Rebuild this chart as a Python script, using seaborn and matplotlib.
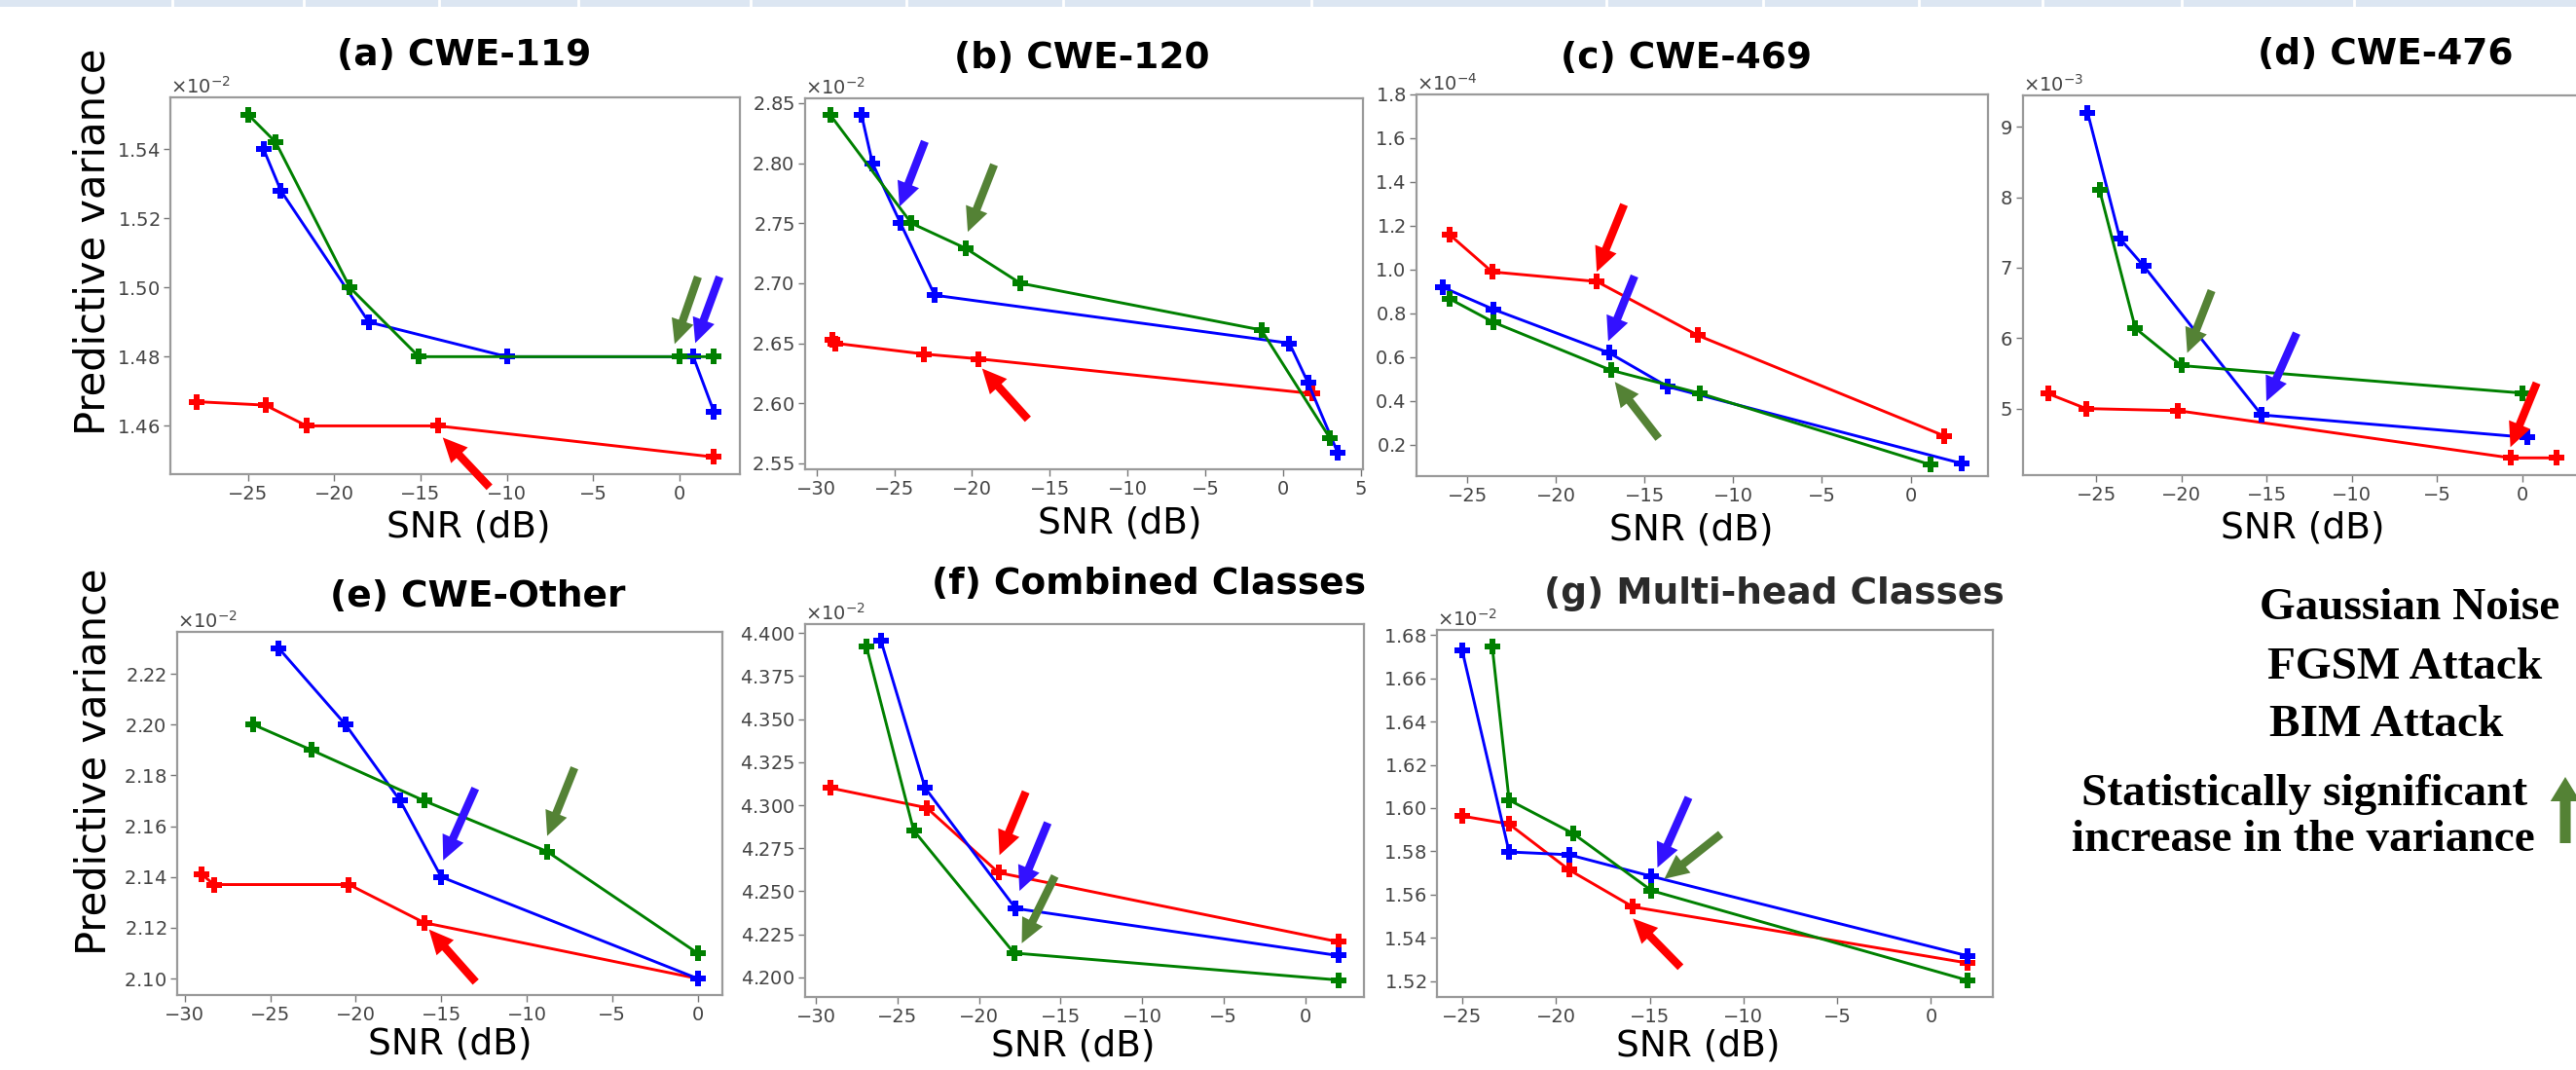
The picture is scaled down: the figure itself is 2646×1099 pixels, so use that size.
import matplotlib
matplotlib.use("Agg")
import matplotlib.pyplot as plt
import seaborn as sns
import pandas as pd
from matplotlib.ticker import MultipleLocator
from matplotlib.transforms import ScaledTranslation
from matplotlib.patches import Rectangle

# ---------------- data (y values in units of the axis multiplier) ----------------
METHODS = ["Gaussian Noise", "FGSM Attack", "BIM Attack"]
TITLES = ["(a) CWE-119", "(b) CWE-120", "(c) CWE-469", "(d) CWE-476",
          "(e) CWE-Other", "(f) Combined Classes", "(g) Multi-head Classes"]
SCALES = [1e-2, 1e-2, 1e-4, 1e-3, 1e-2, 1e-2, 1e-2]

A_RED_X = [-28.0, -24.0, -21.6, -14.0, 2.0]
A_RED_Y = [1.467, 1.466, 1.460, 1.460, 1.451]
A_BLUE_X = [-24.1, -23.1, -18.0, -10.0, 0.8, 2.0]
A_BLUE_Y = [1.540, 1.528, 1.490, 1.480, 1.480, 1.464]
A_GREEN_X = [-25.0, -23.4, -19.1, -15.1, 0.0, 2.0]
A_GREEN_Y = [1.550, 1.542, 1.500, 1.480, 1.480, 1.480]

B_RED_X = [-29.0, -28.8, -23.1, -19.6, 1.9]
B_RED_Y = [2.653, 2.650, 2.641, 2.637, 2.608]
B_BLUE_X = [-27.1, -26.4, -24.6, -22.4, 0.4, 1.6, 3.5]
B_BLUE_Y = [2.840, 2.800, 2.750, 2.690, 2.650, 2.617, 2.559]
B_GREEN_X = [-29.1, -23.9, -20.4, -16.9, -1.4, 3.0]
B_GREEN_Y = [2.840, 2.750, 2.729, 2.700, 2.661, 2.571]

C_RED_X = [-26.0, -23.6, -17.7, -12.0, 1.9]
C_RED_Y = [1.16, 0.99, 0.946, 0.70, 0.241]
C_BLUE_X = [-26.4, -23.5, -17.0, -13.7, 2.9]
C_BLUE_Y = [0.92, 0.818, 0.62, 0.466, 0.115]
C_GREEN_X = [-26.0, -23.5, -16.9, -11.9, 1.1]
C_GREEN_Y = [0.867, 0.759, 0.541, 0.436, 0.11]

D_RED_X = [-27.8, -25.6, -20.2, -0.7, 2.0]
D_RED_Y = [5.21, 5.00, 4.97, 4.30, 4.30]
D_BLUE_X = [-25.5, -23.6, -22.2, -15.3, 0.3]
D_BLUE_Y = [9.20, 7.41, 7.02, 4.91, 4.59]
D_GREEN_X = [-24.8, -22.7, -20.0, 0.0]
D_GREEN_Y = [8.10, 6.14, 5.61, 5.22]

E_RED_X = [-29.0, -28.3, -20.4, -16.0, 0.0]
E_RED_Y = [2.141, 2.137, 2.137, 2.122, 2.100]
E_BLUE_X = [-24.5, -20.6, -17.4, -15.0, 0.0]
E_BLUE_Y = [2.230, 2.200, 2.170, 2.140, 2.100]
E_GREEN_X = [-26.0, -22.6, -16.0, -8.8, 0.0]
E_GREEN_Y = [2.200, 2.190, 2.170, 2.150, 2.110]

F_RED_X = [-29.1, -23.2, -18.8, 2.05]
F_RED_Y = [4.310, 4.2985, 4.2608, 4.2206]
F_BLUE_X = [-26.0, -23.3, -17.75, 2.05]
F_BLUE_Y = [4.3954, 4.310, 4.240, 4.2126]
F_GREEN_X = [-26.9, -24.0, -17.85, 2.05]
F_GREEN_Y = [4.3923, 4.2853, 4.2141, 4.1984]

G_RED_X = [-25.0, -22.5, -19.3, -15.9, 1.95]
G_RED_Y = [1.5963, 1.5926, 1.5714, 1.5543, 1.5283]
G_BLUE_X = [-25.0, -22.5, -19.3, -14.9, 1.95]
G_BLUE_Y = [1.6729, 1.5797, 1.5784, 1.5684, 1.5316]
G_GREEN_X = [-23.4, -22.5, -19.1, -14.9, 1.95]
G_GREEN_Y = [1.6747, 1.6037, 1.5883, 1.5618, 1.5203]

PANEL_SERIES = [
    [(A_RED_X, A_RED_Y), (A_BLUE_X, A_BLUE_Y), (A_GREEN_X, A_GREEN_Y)],
    [(B_RED_X, B_RED_Y), (B_BLUE_X, B_BLUE_Y), (B_GREEN_X, B_GREEN_Y)],
    [(C_RED_X, C_RED_Y), (C_BLUE_X, C_BLUE_Y), (C_GREEN_X, C_GREEN_Y)],
    [(D_RED_X, D_RED_Y), (D_BLUE_X, D_BLUE_Y), (D_GREEN_X, D_GREEN_Y)],
    [(E_RED_X, E_RED_Y), (E_BLUE_X, E_BLUE_Y), (E_GREEN_X, E_GREEN_Y)],
    [(F_RED_X, F_RED_Y), (F_BLUE_X, F_BLUE_Y), (F_GREEN_X, F_GREEN_Y)],
    [(G_RED_X, G_RED_Y), (G_BLUE_X, G_BLUE_Y), (G_GREEN_X, G_GREEN_Y)],
]

# significance arrows: (series index, point index, tip offset px, tail offset px)
ARROWS = [
    [(2, 4, (-5, -13), (19, -82)), (1, 4, (2, -14), (27, -82)), (0, 3, (5, 12), (53, 63))],
    [(1, 2, (-1, -17), (25, -84)), (2, 2, (2, -17), (29, -86)), (0, 3, (4, 10), (51, 62))],
    [(0, 2, (0, -10), (28, -79)), (1, 2, (-1, -12), (26, -79)), (2, 2, (4, 12), (49, 70))],
    [(2, 2, (6, -13), (31, -77)), (1, 3, (5, -14), (36, -84)), (0, 3, (0, -11), (27, -77))],
    [(1, 3, (2, -17), (35, -91)), (2, 3, (0, -16), (28, -86)), (0, 3, (5, 7), (53, 61))],
    [(0, 2, (1, -18), (28, -83)), (1, 2, (4, -18), (33, -88)), (2, 2, (8, -10), (42, -79))],
    [(1, 3, (6, -9), (38, -81)), (2, 3, (13, -12), (71, -58)), (0, 3, (0, 12), (49, 62))],
]

# ---------------- styling / layout ----------------
LINE_COLORS = {"Gaussian Noise": "#ff0000", "FGSM Attack": "#0000ff", "BIM Attack": "#008000"}
ARROW_COLORS = ["#ff0000", "#3311ff", "#548235"]
YSTEP = [0.02e-2, 0.05e-2, 0.2e-4, 1e-3, 0.02e-2, 0.025e-2, 0.02e-2]
YTOP = [None, None, 1.8e-4, None, None, None, None]
AX_BOX = [(175, 100, 760, 487), (827, 101, 1400, 482), (1455, 97, 2042, 489), (2078, 98, 2652, 488),
          (182, 649, 742, 1022), (827, 641, 1401, 1024), (1476, 647, 2047, 1024)]
TITLE_X = [0.515, 0.496, 0.472, 0.649, 0.552, 0.615, 0.606]
TITLE_Y = [1.111, 1.108, 1.094, 1.108, 1.097, 1.107, 1.098]
TITLE_C = ["black"] * 6 + ["#2a2a2a"]
XLABEL_X = [0.524, 0.565, 0.48, 0.5, 0.5, 0.48, 0.47]
XLABEL_DY = [55, 55, 55, 55, 51, 51, 51]

DPI = 100
W, H = 2646, 1099

sns.set_style("white")
plt.rcParams["font.family"] = ["DejaVu Sans"]
plt.rcParams["mathtext.fontset"] = "dejavusans"

fig = plt.figure(figsize=(W / DPI, H / DPI), dpi=DPI)
fig.patch.set_facecolor("white")

for i in range(7):
    l, t, r, b = AX_BOX[i]
    ax = fig.add_axes([l / W, 1 - b / H, (r - l) / W, (b - t) / H])
    rows = []
    for m, (xs, ys) in zip(METHODS, PANEL_SERIES[i]):
        for x, y in zip(xs, ys):
            rows.append({"snr": x, "var": y * SCALES[i], "method": m})
    df = pd.DataFrame(rows)
    sns.lineplot(data=df, x="snr", y="var", hue="method", hue_order=METHODS,
                 palette=LINE_COLORS, marker="P", markersize=12, markeredgewidth=0,
                 linewidth=2.1, estimator=None, sort=False, legend=False, ax=ax)
    if YTOP[i] is not None:
        ax.set_ylim(top=YTOP[i])
    ax.xaxis.set_major_locator(MultipleLocator(5))
    ax.yaxis.set_major_locator(MultipleLocator(YSTEP[i]))
    ax.ticklabel_format(axis="y", style="sci", scilimits=(0, 0), useMathText=True, useOffset=False)
    ax.yaxis.get_offset_text().set_fontsize(14)
    ax.yaxis.get_offset_text().set_color("#444444")
    ax.tick_params(axis="both", which="both", bottom=True, left=True, direction="out",
                   length=5, width=1, color="#777777", labelsize=14, labelcolor="#444444", pad=3)
    for s in ax.spines.values():
        s.set_color("#9a9a9a")
        s.set_linewidth(1.6)
    ax.text(TITLE_X[i], TITLE_Y[i], TITLES[i], transform=ax.transAxes, ha="center", va="center",
            fontsize=27, fontweight="bold", color=TITLE_C[i])
    ax.set_xlabel("SNR (dB)", fontsize=27, color="black")
    ax.xaxis.set_label_coords(XLABEL_X[i], -XLABEL_DY[i] / (b - t))
    ax.xaxis.label.set_va("center")
    if i in (0, 4):
        ax.set_ylabel("Predictive variance", fontsize=30, color="black")
        if i == 0:
            ax.yaxis.set_label_coords(-79 / (r - l), 0.618)
        else:
            ax.yaxis.set_label_coords(-85 / (r - l), 0.643)
        ax.yaxis.label.set_va("center")
    else:
        ax.set_ylabel("")
    # significance arrows
    for si, pi, tip, tail in ARROWS[i]:
        xs, ys = PANEL_SERIES[i][si]
        tr = ax.transData + ScaledTranslation(tip[0] / DPI, -tip[1] / DPI, fig.dpi_scale_trans)
        off = ((tail[0] - tip[0]) * 72 / DPI, -(tail[1] - tip[1]) * 72 / DPI)
        ax.annotate("", xy=(xs[pi], ys[pi] * SCALES[i]), xycoords=tr, xytext=off,
                    textcoords="offset points",
                    arrowprops=dict(facecolor=ARROW_COLORS[si], edgecolor="none",
                                    width=6, headwidth=17, headlength=18, shrink=0))

# ---------------- overlay: legend text, top band ----------------
ov = fig.add_axes([0, 0, 1, 1], zorder=10)
ov.set_xlim(0, W)
ov.set_ylim(H, 0)
ov.axis("off")

ov.add_patch(Rectangle((0, 0), W, 7, facecolor="#dce6f2", edgecolor="none"))
for sx in [177, 312, 451, 594, 771, 931, 1092, 1347, 1650, 1811, 1971, 2098, 2241, 2418]:
    ov.plot([sx, sx], [0, 7], color="white", lw=2)

serif = dict(family=["Liberation Serif", "DejaVu Serif"], fontweight="bold", fontsize=34, color="black")
ov.text(2475, 625, "Gaussian Noise", ha="center", va="center", **serif)
ov.text(2470, 686, "FGSM Attack", ha="center", va="center", **serif)
ov.text(2451, 745, "BIM Attack", ha="center", va="center", **serif)
ov.text(2367, 816, "Statistically significant", ha="center", va="center", **serif)
ov.text(2366, 863, "increase in the variance", ha="center", va="center", **serif)
ov.annotate("", xy=(2635, 798), xycoords="data", xytext=(2635, 866), textcoords="data",
            arrowprops=dict(facecolor="#548235", edgecolor="none", width=8, headwidth=22,
                            headlength=18, shrink=0), annotation_clip=False)

fig.savefig("out.png", dpi=DPI)
